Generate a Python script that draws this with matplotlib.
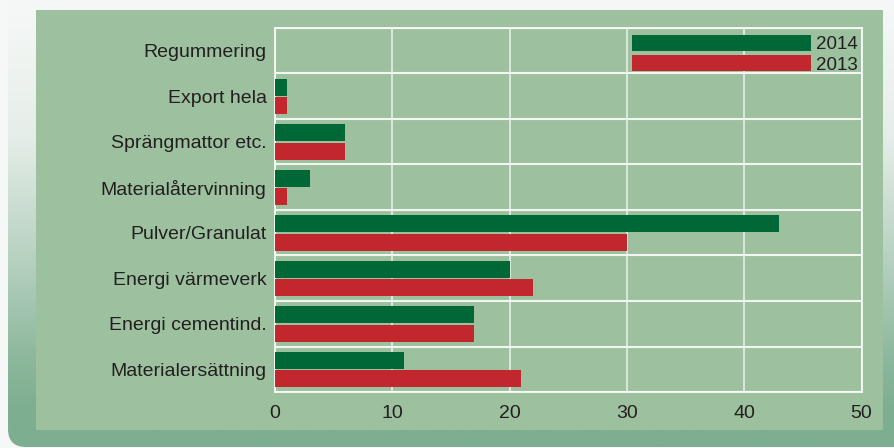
import matplotlib
matplotlib.use("Agg")
import matplotlib.pyplot as plt
import numpy as np
from matplotlib.patches import FancyBboxPatch, Rectangle
from matplotlib.colors import LinearSegmentedColormap

plt.rcParams['font.family'] = ['Liberation Sans', 'DejaVu Sans']

categories = ["Regummering", "Export hela", "Sprängmattor etc.", "Materialåtervinning",
              "Pulver/Granulat", "Energi värmeverk", "Energi cementind.", "Materialersättning"]
values_2014 = [0, 1, 6, 3, 43, 20, 17, 11]
values_2013 = [0, 1, 6, 1, 30, 22, 17, 21]
series_labels = ["2014", "2013"]
xticks = [0, 10, 20, 30, 40, 50]

W, H = 894, 448
fig = plt.figure(figsize=(W / 100, H / 100), dpi=100)
fig.patch.set_facecolor('#F6F8F7')

# background decoration axes
bg = fig.add_axes([0, 0, 1, 1])
bg.set_xlim(0, W)
bg.set_ylim(H, 0)
bg.axis('off')
cmap = LinearSegmentedColormap.from_list(
    'g', [(0.0, '#F6F8F7'), (0.3, '#E6EEE9'), (0.6, '#B3CFBD'),
          (0.8, '#8DB89D'), (0.92, '#7DAE90'), (1.0, '#7DAE90')])
grad = np.linspace(0, 1, 256).reshape(-1, 1)
im = bg.imshow(grad, cmap=cmap, extent=[8, W + 20, H - 1, 0], aspect='auto', zorder=0)
clip = FancyBboxPatch((8, -20), W + 20, H - 1 + 20, boxstyle="round,pad=0,rounding_size=18",
                      transform=bg.transData, facecolor='none', edgecolor='none')
bg.add_patch(clip)
im.set_clip_path(clip)
bg.add_patch(Rectangle((36, 10), 847, 420, facecolor='#9DC19F', edgecolor='none', zorder=2))

ax = fig.add_axes([275 / W, 1 - 392 / H, (861.5 - 275) / W, (392 - 28) / H])
ax.patch.set_alpha(0)

y = np.arange(len(categories))
h = 0.375
green = '#006837'
red = '#C1272D'
b1 = ax.barh(y - 0.195, values_2014, height=h, color=green, label=series_labels[0], zorder=3)
b2 = ax.barh(y + 0.205, values_2013, height=h, color=red, label=series_labels[1], zorder=3)

ax.set_ylim(len(categories) - 0.5, -0.5)
ax.set_xlim(0, 50)
ax.set_yticks(y)
ax.set_yticklabels(categories)
ax.set_xticks(xticks)
ax.set_xticklabels([str(t) for t in xticks])
ax.tick_params(axis='both', length=0, labelsize=14, colors='#231F20')
ax.tick_params(axis='y', pad=6)
ax.tick_params(axis='x', pad=9)

# grid: verticals at ticks, horizontals at category boundaries
ax.set_yticks(np.arange(-0.5, len(categories), 1), minor=True)
ax.tick_params(axis='y', which='minor', length=0)
ax.grid(axis='x', which='major', color='#E6EEE6', linewidth=1.2, zorder=1)
ax.grid(axis='y', which='minor', color='#F2F6F2', linewidth=1.5, zorder=1)
ax.set_axisbelow(True)
for s in ax.spines.values():
    s.set_color('white')
    s.set_linewidth(1.2)

leg = ax.legend(handles=[b1, b2], labels=series_labels, loc='upper right',
                bbox_to_anchor=(1.0, 0.991), frameon=False, fontsize=13.5,
                handlelength=9.55, handleheight=0.92, labelspacing=0.1,
                handletextpad=0.25, borderpad=0.2, borderaxespad=0.0)
for t in leg.get_texts():
    t.set_color('#231F20')

fig.savefig('out.png', dpi=100, facecolor=fig.get_facecolor())
